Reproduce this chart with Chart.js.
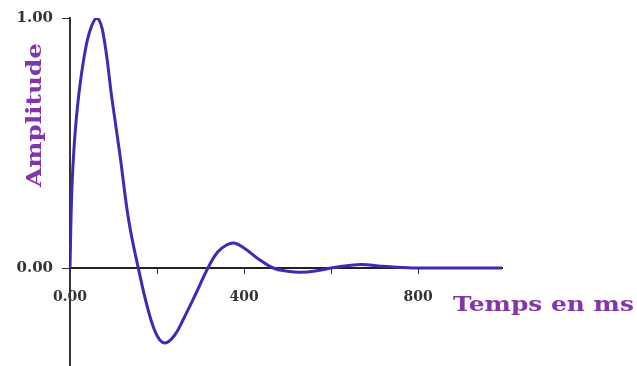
<!DOCTYPE html>
<html>
<head>
<meta charset="utf-8">
<script src="https://cdn.jsdelivr.net/npm/chart.js@4/dist/chart.umd.min.js"></script>
<style>
    html, body { margin: 0; padding: 0; background: #fff; }
    #wrap { width: 637px; height: 366px; position: relative; }
</style>
</head>
<body>
<div id="wrap"><canvas id="pulseChart"></canvas></div>
<script>
// Temps (ms) et amplitude
const tempsMs = [0, 4, 10, 20, 35, 48, 62, 76, 97, 115, 135, 157, 180, 200, 218, 240, 262, 290, 317, 340, 360, 377, 400, 430, 467, 500, 532, 570, 600, 640, 671, 710, 750, 800, 900, 993];
const amplitude = [0, 0.30, 0.50, 0.69, 0.87, 0.96, 1.00, 0.94, 0.67, 0.45, 0.19, 0, -0.17, -0.27, -0.30, -0.27, -0.20, -0.10, 0, 0.065, 0.092, 0.10, 0.08, 0.04, 0, -0.013, -0.017, -0.01, 0, 0.01, 0.014, 0.008, 0.003, 0, 0, 0];

const xTicks = [0, 200, 400, 600, 800];
const xTickLabels = { 0: '0.00', 400: '400', 800: '800' };
const yTicks = [0, 1];
const yTickLabels = ['0.00', '1.00'];

const axisTitleY = 'Amplitude';
const axisTitleX = 'Temps en ms';

const violet = '#8535aa';
const bleu = '#3a2db5';

// Titres des axes dessinés à la main (placement libre comme sur l'original)
function drawFitted(ctx, text, x, y, width, angle) {
    ctx.save();
    ctx.fillStyle = violet;
    ctx.font = 'bold 20px "DejaVu Serif"';
    ctx.textBaseline = 'middle';
    ctx.textAlign = 'left';
    const w = ctx.measureText(text).width;
    ctx.translate(x, y);
    ctx.rotate(angle);
    ctx.scale(width / w, 1);
    ctx.fillText(text, 0, 0);
    ctx.restore();
}

const axisTitles = {
    id: 'axisTitles',
    afterDraw(chart) {
        drawFitted(chart.ctx, axisTitleY, 36, 187, 144, -Math.PI / 2);
        drawFitted(chart.ctx, axisTitleX, 453, 306, 181, 0);
    }
};

const ctx = document.getElementById('pulseChart').getContext('2d');
new Chart(ctx, {
    type: 'line',
    data: {
        datasets: [{
            data: tempsMs.map((t, i) => ({ x: t, y: amplitude[i] })),
            borderColor: bleu,
            borderWidth: 3,
            pointRadius: 0,
            fill: false,
            tension: 0.4
        }]
    },
    options: {
        responsive: true,
        maintainAspectRatio: false,
        animation: false,
        layout: { padding: { left: 0, top: 18, right: 135, bottom: 0 } },
        plugins: {
            legend: { display: false },
            tooltip: { enabled: false }
        },
        scales: {
            x: {
                type: 'linear',
                position: { y: 0 },
                min: 0,
                max: 993,
                afterFit: (scale) => { scale.height = 0; },
                afterBuildTicks: (scale) => { scale.ticks = xTicks.map(v => ({ value: v })); },
                ticks: {
                    autoSkip: false,
                    maxRotation: 0,
                    color: '#333',
                    font: { family: 'DejaVu Serif', weight: 'bold', size: 14 },
                    padding: 16,
                    callback: (v) => xTickLabels[v] || ''
                },
                grid: { drawOnChartArea: false, drawTicks: true, tickLength: 5, color: '#333' },
                border: { color: '#222', width: 2 }
            },
            y: {
                min: -0.392,
                max: 1,
                afterFit: (scale) => {
                    scale.width = 70;
                    scale.paddingTop = 0;
                    scale.paddingBottom = 0;
                },
                afterBuildTicks: (scale) => { scale.ticks = yTicks.map(v => ({ value: v })); },
                ticks: {
                    color: '#333',
                    font: { family: 'DejaVu Serif', weight: 'bold', size: 15 },
                    padding: 9,
                    callback: (v) => yTickLabels[yTicks.indexOf(v)]
                },
                grid: { drawOnChartArea: false, drawTicks: true, tickLength: 8, color: '#333' },
                border: { color: '#333', width: 2 }
            }
        }
    },
    plugins: [axisTitles]
});
</script>
</body>
</html>
